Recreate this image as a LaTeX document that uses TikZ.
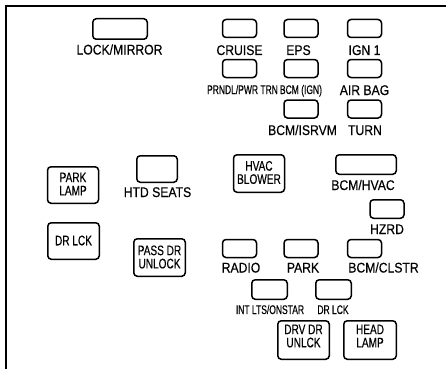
\documentclass[tikz,border=0pt]{standalone}
\usepackage{fontspec}
\setmainfont{Liberation Sans}
\newfontfamily\labfont[FakeStretch=0.87,FakeBold=0.4]{Liberation Sans}
\newfontfamily\inboxfont[FakeStretch=0.73,FakeBold=0.4]{Liberation Sans}
\newfontfamily\smallfont[FakeStretch=0.68,FakeBold=0.4]{Liberation Sans}
\begin{document}
\begin{tikzpicture}[x=1pt,y=-1pt,
  fuse/.style={draw=black, line width=1.5pt, rounded corners=3.5pt, inner sep=0pt, fill=white},
  sfuse/.style={fuse, minimum width=34pt, minimum height=18pt},
  bfuse/.style={fuse, minimum width=51pt, minimum height=37pt},
  lab/.style={font=\labfont\fontsize{14}{14}\selectfont, inner sep=0pt, anchor=base},
  sm/.style={font=\smallfont\fontsize{12.5}{12}\selectfont, inner sep=0pt, anchor=base},
  inb/.style={font=\inboxfont\fontsize{13.8}{13.2}\selectfont, inner sep=0pt, align=center},
  frame/.style={line width=2pt}
]
\useasboundingbox (0,0) rectangle (446,369);
% frame
\draw[frame] (446,6.3) -- (6.2,6.3) -- (6.2,369);

% small fuses
\node[fuse, minimum width=54.5pt, minimum height=20.5pt] (lockmirror) at (120,29) {};
\node[sfuse] (cruise) at (239.5,28.5) {};
\node[sfuse] (eps) at (301,28.5) {};
\node[sfuse] (ign1) at (364.5,28.5) {};
\node[sfuse] (prndl) at (239.5,68.5) {};
\node[sfuse] (bcmign) at (301,68.5) {};
\node[sfuse] (airbag) at (364.5,68.5) {};
\node[sfuse] (bcmisrvm) at (301,109) {};
\node[sfuse] (turn) at (364.5,109) {};
\node[fuse, minimum width=40.5pt, minimum height=26.5pt] (htdseats) at (157,169) {};
\node[fuse, minimum width=60.5pt, minimum height=19.5pt] (bcmhvac) at (366,164.5) {};
\node[sfuse, minimum height=18.5pt] (hzrd) at (387,209) {};
\node[sfuse] (radio) at (239.5,248.5) {};
\node[sfuse] (park) at (301,248.5) {};
\node[sfuse] (bcmclstr) at (364.5,248.5) {};
\node[fuse, minimum width=35.5pt, minimum height=19.5pt] (intlts) at (269.5,289.5) {};
\node[fuse, minimum width=35.5pt, minimum height=19.5pt] (drlcks) at (333.5,289.5) {};

% big fuses
\node[bfuse, minimum height=37.5pt] (hvac) at (259,173.5) {};
\node[bfuse, minimum height=36.5pt] (parklamp) at (73,185) {};
\node[bfuse, minimum width=51.5pt, minimum height=36.5pt] (drlck) at (73.5,241) {};
\node[bfuse, minimum width=51.5pt, minimum height=37.5pt] (passdr) at (159.5,257.5) {};
\node[bfuse, minimum width=51.5pt, minimum height=38.5pt] (drvdr) at (303.5,340) {};
\node[bfuse, minimum width=52.5pt, minimum height=38.5pt] (headlamp) at (370,340) {};

% in-box texts
\node[inb] (thvac) at (259,172.5) {HVAC\\BLOWER};
\node[inb] (tparklamp) at (73,184) {PARK\\LAMP};
\node[inb] (tdrlck) at (73.5,240.5) {DR LCK};
\node[inb] (tpassdr) at (159.5,257) {PASS DR\\UNLOCK};
\node[inb] (tdrvdr) at (303.5,336) {DRV DR\\UNLCK};
\node[inb] (theadlamp) at (370,336) {HEAD\\LAMP};

% labels
\node[lab] (llockmirror) at (119.5,54.5) {LOCK/MIRROR};
\node[lab] (lcruise) at (239.5,55) {CRUISE};
\node[lab] (leps) at (298.5,55) {EPS};
\node[lab] (lign1) at (364.5,55) {IGN 1};
\node[sm] (lprndl) at (242.5,94) {PRNDL/PWR TRN};
\node[sm] (lbcmign) at (301,94) {BCM (IGN)};
\node[lab] (lairbag) at (364.5,95) {AIR BAG};
\node[lab] (lbcmisrvm) at (302.5,135) {BCM/ISRVM};
\node[lab] (lturn) at (365,135) {TURN};
\node[lab] (lhtdseats) at (157.5,197) {HTD SEATS};
\node[lab] (lbcmhvac) at (363,190) {BCM/HVAC};
\node[lab] (lhzrd) at (387,234) {HZRD};
\node[lab] (lradio) at (241,272.5) {RADIO};
\node[lab] (lpark) at (303,272.5) {PARK};
\node[lab] (lbcmclstr) at (383.5,272.5) {BCM/CLSTR};
\node[sm] (lintlts) at (270,314) {INT LTS/ONSTAR};
\node[sm] (ldrlcks) at (333,314) {DR LCK};
\end{tikzpicture}
\end{document}
